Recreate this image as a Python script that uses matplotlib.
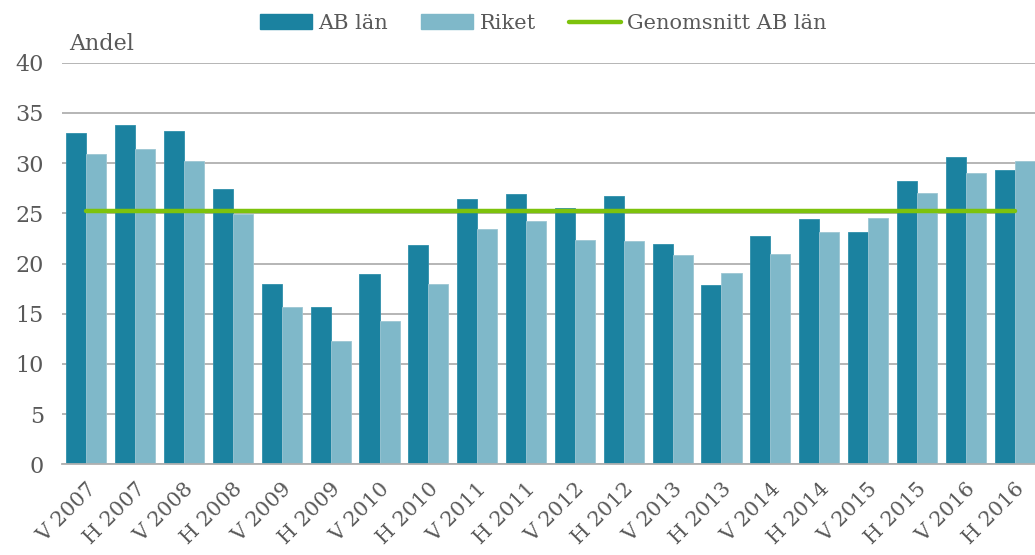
import numpy as np
import matplotlib
matplotlib.use('Agg')
import matplotlib.pyplot as plt
from matplotlib.patches import Patch
from matplotlib.lines import Line2D

# data
perioder = ['V 2007', 'H 2007', 'V 2008', 'H 2008', 'V 2009', 'H 2009', 'V 2010', 'H 2010',
            'V 2011', 'H 2011', 'V 2012', 'H 2012', 'V 2013', 'H 2013', 'V 2014', 'H 2014',
            'V 2015', 'H 2015', 'V 2016', 'H 2016']
ab_lan = [33.0, 33.8, 33.2, 27.4, 18.0, 15.7, 19.0, 21.8, 26.4, 26.9,
          25.5, 26.7, 21.9, 17.9, 22.7, 24.4, 23.1, 28.2, 30.6, 29.3]
riket = [30.9, 31.4, 30.2, 24.9, 15.7, 12.3, 14.3, 18.0, 23.4, 24.2,
         22.3, 22.2, 20.8, 19.1, 20.9, 23.1, 24.5, 27.0, 29.0, 30.2]
genomsnitt_ab = 25.2

farg_ab = '#1b82a0'
farg_riket = '#7fb8c9'
farg_linje = '#7dc20c'
textfarg = '#595959'

plt.rcParams['font.family'] = ['DejaVu Serif']

fig = plt.figure(figsize=(10.35, 5.55), dpi=100)
ax = fig.add_axes([62 / 1035, 1 - 464.3 / 555, (1039 - 62) / 1035, (464.3 - 62.7) / 555])

x = np.arange(len(perioder))
w = 0.41
ax.bar(x - w / 2, ab_lan, w, color=farg_ab, edgecolor='#2f8fab', linewidth=0.6, zorder=2)
ax.bar(x + w / 2, riket, w, color=farg_riket, edgecolor='#9cc6d3', linewidth=0.6, zorder=2)
ax.plot([x[0], x[-1]], [genomsnitt_ab, genomsnitt_ab], color=farg_linje, lw=3.2,
        solid_capstyle='round', zorder=3)

ax.set_xlim(-0.5, len(perioder) - 0.5)
ax.set_ylim(0, 40)
ax.set_yticks(range(0, 41, 5))
ax.yaxis.grid(True, color='#b0b0b0', lw=1.3, zorder=0)
ax.set_axisbelow(True)
for s in ['top', 'right', 'left']:
    ax.spines[s].set_visible(False)
ax.spines['bottom'].set_color('#b0b0b0')
ax.spines['bottom'].set_linewidth(1.3)
ax.tick_params(axis='y', length=0, pad=13, labelsize=16, labelcolor=textfarg)
ax.tick_params(axis='x', length=0, pad=11, labelsize=15, labelcolor=textfarg)
ax.set_xticks(x)
ax.set_xticklabels(perioder, rotation=45, ha='right', rotation_mode='anchor')

fig.text(69 / 1035, 1 - 44 / 555, 'Andel', fontsize=16, color=textfarg, va='center')

handles = [Patch(color=farg_ab), Patch(color=farg_riket),
           Line2D([0], [0], color=farg_linje, lw=3.2, solid_capstyle='round')]
fig.legend(handles, ['AB län', 'Riket', 'Genomsnitt AB län'], loc='upper center',
           bbox_to_anchor=(0.525, 1.009), ncol=3, frameon=False, fontsize=15,
           handlelength=2.5, handleheight=0.67, handletextpad=0.3, columnspacing=1.6,
           labelcolor=textfarg)

fig.savefig('out.png', dpi=100)
